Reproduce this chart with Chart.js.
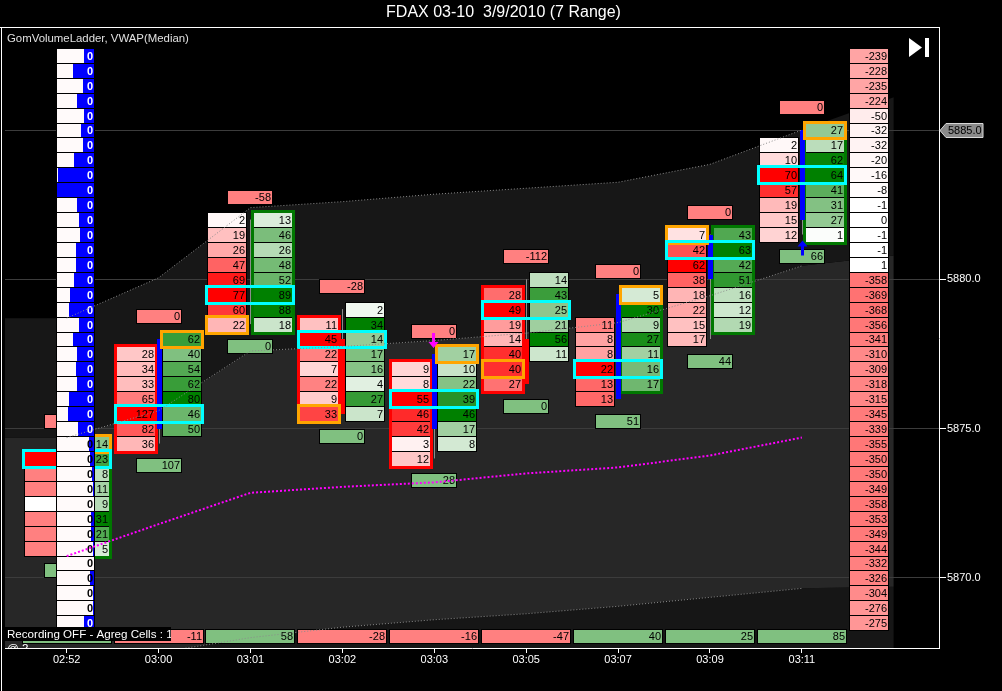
<!DOCTYPE html>
<html>
<head>
<meta charset="utf-8">
<title>FDAX 03-10 volume ladder</title>
<script src="https://cdn.jsdelivr.net/npm/chart.js@4.4.1/dist/chart.umd.min.js"></script>
<style>
  html, body { margin: 0; padding: 0; background: #000; overflow: hidden; }
  canvas { display: block; background: #000; }
</style>
</head>
<body>
<canvas id="chart" width="1002" height="691"></canvas>
<script>
// Bars (7 range) and their footprint
const times = ['02:52', '03:00', '03:01', '03:02', '03:03', '03:05', '03:07', '03:09', '03:11'];
const yTicks = [5870, 5875, 5880, 5885];
const tickSize = 0.5;

// price of the first (highest) row of each bar
const rowTop = [5874.5, 5878.0, 5882.0, 5879.0, 5877.5, 5880.0, 5879.5, 5881.5, 5885.0];
// bid / ask volume per row, top to bottom (null = no trade on that side)
const bidVol = [
    [null, 2, 1, 1, 0, 1, 1, 1],
    [null, 28, 34, 33, 65, 127, 82, 36],
    [2, 19, 26, 47, 69, 77, 60, 22],
    [null, 11, 45, 22, 7, 22, 9, 33],
    [null, 9, 8, 55, 46, 42, 3, 12],
    [null, 28, 49, 19, 14, 40, 40, 27],
    [null, null, 11, 8, 8, 22, 13, 13],
    [7, 42, 62, 38, 18, 22, 15, 17],
    [null, 2, 10, 70, 57, 19, 15, 12]
];
const askVol = [
    [14, 23, 8, 11, 9, 31, 21, 5],
    [62, 40, 54, 62, 80, 46, 50, null],
    [13, 46, 26, 48, 52, 89, 88, 18],
    [2, 34, 14, 17, 16, 4, 27, 7],
    [17, 10, 22, 39, 46, 17, 8, null],
    [14, 43, 25, 21, 56, 11, null, null],
    [5, 30, 9, 27, 11, 16, 17, null],
    [43, 63, 42, 51, 16, 12, 19, null],
    [27, 17, 62, 64, 41, 31, 27, 1]
];
const opens  = [5871.0, 5875.0, 5878.5, 5878.0, 5875.0, 5878.0, 5876.0, 5880.0, 5882.0];
const closes = [5874.0, 5878.0, 5878.5, 5875.5, 5877.5, 5876.5, 5879.5, 5881.5, 5885.0];
const highs  = [5874.5, 5878.0, 5882.0, 5879.0, 5877.5, 5880.0, 5879.5, 5881.5, 5885.0];
const lows   = [5871.0, 5874.5, 5878.5, 5875.5, 5874.0, 5876.5, 5876.0, 5878.0, 5881.5];

const pocPrice  = [5874.0, 5875.5, 5879.5, 5878.0, 5876.0, 5879.0, 5877.0, 5881.0, 5883.5];
const markSide  = ['ask', 'ask', 'bid', 'bid', 'ask', 'bid', 'ask', 'bid', 'ask'];
const markPrice = [5874.5, 5878.0, 5878.5, 5875.5, 5877.5, 5877.0, 5879.5, 5881.5, 5885.0];
const frameSide = ['ask', 'bid', 'ask', 'bid', 'bid', 'bid', 'ask', 'ask', 'ask'];

const deltaTop  = [0, 0, -58, -28, 0, -112, 0, 0, 0];
const volBottom = [0, 107, 0, 0, 28, 0, 51, 44, 66];
const cumDelta  = [12, -11, 58, -28, -16, -47, 40, 25, 85];
const cumRowPrice = 5868.05;
const sigDown = [0, 0, 0, 0, 1, 0, 0, 0, 0];
const sigUp   = [0, 0, 0, 0, 0, 0, 0, 0, 1];

// session ladders (5887.5 down to 5868.5)
const ladderTop = 5887.5;
const leftShare = [72, 44, 69, 54, 74, 64, 69, 46, 3, 0,
                   54, 59, 62, 51, 51, 46, 36, 33, 59, 44,
                   54, 51, 54, 33, 31, 56, 87, 90, 95, 97,
                   100, 92, 92, 97, 100, 90, 97, 97, 72];
const leftVals = [0, 0, 0, 0, 0, 0, 0, 0, 0, 0,
                  0, 0, 0, 0, 0, 0, 0, 0, 0, 0,
                  0, 0, 0, 0, 0, 0, 0, 0, 0, 0,
                  0, 0, 0, 0, 0, 0, 0, 0, 0];
const rightDelta = [-239, -228, -235, -224, -50, -32, -32, -20, -16, -8,
                    -1, 0, -1, -1, 1, -358, -369, -368, -356, -341,
                    -310, -309, -318, -315, -345, -339, -355, -350, -350, -349,
                    -358, -353, -349, -344, -332, -326, -304, -276, -275];

// VWAP and its bands (band points: left edge, one per bar, right edge)
const vwap    = [5870.73, 5871.8, 5872.85, 5873.05, 5873.2, 5873.5, 5873.7, 5874.1, 5874.7];
const bandIdx = [-0.7, 0, 1, 2, 3, 4, 5, 6, 7, 8, 9];
const bandUp2 = [5878.7, 5878.7, 5880.05, 5882.4, 5882.6, 5882.85, 5883.05, 5883.25, 5883.85, 5885.0, 5886.1];
const bandUp1 = [5874.7, 5874.7, 5875.6, 5877.6, 5877.75, 5877.95, 5878.2, 5878.55, 5879.45, 5880.45, 5880.8];
const bandDn1 = [5866.4, 5866.6, 5867.5, 5868.0, 5868.35, 5868.6, 5868.8, 5869.05, 5869.35, 5869.65, 5869.7];

const FONT = '"Liberation Sans", Arial, sans-serif';
Chart.defaults.font.family = FONT;

function bidColor(f) {
    const c = Math.round(255 * (1 - f));
    return 'rgb(255,' + c + ',' + c + ')';
}
function askColor(f) {
    const c = Math.round(255 * (1 - f));
    return 'rgb(' + c + ',' + Math.round(255 - 127 * f) + ',' + c + ')';
}
function deltaColor(v, max) {
    const f = Math.abs(v) / max;
    const c = Math.round(255 - 141 * f);
    return v < 0 ? 'rgb(255,' + c + ',' + c + ')' : 'rgb(' + c + ',255,' + c + ')';
}

function rowBox(ys, price) {
    return [Math.round(ys.getPixelForValue(price + tickSize / 2)),
            Math.round(ys.getPixelForValue(price - tickSize / 2))];
}

// one footprint cell: black outline, coloured inside, value right aligned
function cell(ctx, x0, x1, t, b, fill, text) {
    ctx.fillStyle = '#000';
    ctx.fillRect(x0, t, x1 - x0, b - t + 1);
    ctx.fillStyle = fill;
    ctx.fillRect(x0 + 1, t + 1, x1 - x0 - 2, b - t - 1);
    if (text !== null && text !== undefined) {
        ctx.fillStyle = '#000';
        ctx.textAlign = 'right';
        ctx.textBaseline = 'middle';
        ctx.fillText(String(text), x1 - 2, (t + b) / 2 + 1);
    }
}

function box(ctx, x0, x1, t, b, color, width) {
    ctx.strokeStyle = color;
    ctx.lineWidth = width;
    ctx.strokeRect(x0 - 0.5, t - 0.5, x1 - x0 + 1, b - t + 1);
}

function arrow(ctx, cx, tipY, dir, color) {
    const len = 15, head = 6;
    ctx.fillStyle = color;
    ctx.beginPath();
    ctx.moveTo(cx, tipY);
    ctx.lineTo(cx - 5, tipY - dir * head);
    ctx.lineTo(cx - 1.5, tipY - dir * head);
    ctx.lineTo(cx - 1.5, tipY - dir * len);
    ctx.lineTo(cx + 1.5, tipY - dir * len);
    ctx.lineTo(cx + 1.5, tipY - dir * head);
    ctx.lineTo(cx + 5, tipY - dir * head);
    ctx.closePath();
    ctx.fill();
}

function drawFootprint(chart) {
    const ctx = chart.ctx, xs = chart.scales.x, ys = chart.scales.y, a = chart.chartArea;
    ctx.save();
    ctx.beginPath();
    ctx.rect(a.left, a.top, a.right - a.left, a.bottom - a.top);
    ctx.clip();
    ctx.font = '11px ' + FONT;

    times.forEach((t, i) => {
        const cx = Math.round(xs.getPixelForValue(i));
        const bx0 = cx - 43, bx1 = cx - 3, ax0 = cx + 3, ax1 = cx + 43;
        const bMax = Math.max(...bidVol[i].filter(v => v !== null));
        const aMax = Math.max(...askVol[i].filter(v => v !== null));
        const bidRows = [], askRows = [];

        bidVol[i].forEach((v, k) => {
            if (v === null) return;
            const r = rowBox(ys, rowTop[i] - k * tickSize);
            cell(ctx, bx0, bx1, r[0], r[1], bidColor(v / bMax), v);
            bidRows.push(r);
        });
        askVol[i].forEach((v, k) => {
            if (v === null) return;
            const r = rowBox(ys, rowTop[i] - k * tickSize);
            cell(ctx, ax0, ax1, r[0], r[1], askColor(v / aMax), v);
            askRows.push(r);
        });

        // side frame
        const onBid = frameSide[i] === 'bid';
        const rows = onBid ? bidRows : askRows;
        box(ctx, onBid ? bx0 : ax0, onBid ? bx1 : ax1, rows[0][0], rows[rows.length - 1][1] + 1,
            onBid ? '#ff0000' : '#007800', 3);

        // candle
        const wx = cx + 0.5;
        ctx.strokeStyle = '#8c8c8c';
        ctx.lineWidth = 1;
        ctx.beginPath();
        ctx.moveTo(wx, ys.getPixelForValue(highs[i]));
        ctx.lineTo(wx, ys.getPixelForValue(lows[i]));
        ctx.stroke();
        if (opens[i] !== closes[i]) {
            const yt = Math.round(ys.getPixelForValue(Math.max(opens[i], closes[i])));
            const yb = Math.round(ys.getPixelForValue(Math.min(opens[i], closes[i])));
            ctx.fillStyle = closes[i] > opens[i] ? '#0000ff' : '#ff0000';
            ctx.fillRect(cx - 2, yt, 5, yb - yt);
        }

        // marked cell and point of control
        const m = rowBox(ys, markPrice[i]);
        if (markSide[i] === 'bid') box(ctx, bx0, bx1, m[0], m[1] + 1, '#ffa500', 3);
        else box(ctx, ax0, ax1, m[0], m[1] + 1, '#ffa500', 3);
        const p = rowBox(ys, pocPrice[i]);
        box(ctx, bx0, ax1, p[0], p[1] + 1, '#00ffff', 3);

        // delta above, volume below, cumulative row
        const up = rowBox(ys, highs[i] + 1.5 * tickSize);
        cell(ctx, cx - 23, cx + 23, up[0], up[1] - 1, '#ff8080', deltaTop[i]);
        const dn = rowBox(ys, lows[i] - 1.5 * tickSize);
        cell(ctx, cx - 23, cx + 23, dn[0], dn[1] - 1, '#80c080', volBottom[i]);
        const cr = rowBox(ys, cumRowPrice);
        cell(ctx, cx - 45, cx + 45, cr[0], cr[1] - 1, cumDelta[i] < 0 ? '#ff8080' : '#80c080', cumDelta[i]);
    });

    // session ladder on the first bar
    ctx.font = 'bold 11px ' + FONT;
    const lx0 = Math.round(xs.getPixelForValue(0)) - 11, lx1 = lx0 + 39;
    leftShare.forEach((s, k) => {
        const r = rowBox(ys, ladderTop - k * tickSize);
        ctx.fillStyle = '#000';
        ctx.fillRect(lx0, r[0], lx1 - lx0, r[1] - r[0] + 1);
        const wEnd = lx0 + 1 + Math.round((lx1 - lx0 - 2) * s / 100);
        ctx.fillStyle = '#0000ff';
        ctx.fillRect(lx0 + 1, r[0] + 1, lx1 - lx0 - 2, r[1] - r[0] - 1);
        ctx.fillStyle = '#fffafa';
        ctx.fillRect(lx0 + 1, r[0] + 1, wEnd - lx0 - 1, r[1] - r[0] - 1);
        ctx.fillStyle = wEnd < lx1 - 8 ? '#ffffff' : '#000000';
        ctx.textAlign = 'right';
        ctx.textBaseline = 'middle';
        ctx.fillText(String(leftVals[k]), lx1 - 2, (r[0] + r[1]) / 2 + 1);
    });

    // delta ladder on the right
    ctx.font = '11px ' + FONT;
    const rMax = Math.max(...rightDelta.map(Math.abs));
    const rx0 = Math.round(xs.getPixelForValue(times.length - 1)) + 47, rx1 = rx0 + 40;
    rightDelta.forEach((v, k) => {
        const r = rowBox(ys, ladderTop - k * tickSize);
        cell(ctx, rx0, rx1, r[0], r[1], deltaColor(v, rMax), v);
    });

    // signal arrows
    times.forEach((t, i) => {
        const cx = Math.round(xs.getPixelForValue(i)) + 0.5;
        if (sigDown[i]) arrow(ctx, cx - 1, ys.getPixelForValue(highs[i] + 0.2), 1, '#ff00ff');
        if (sigUp[i]) arrow(ctx, cx, ys.getPixelForValue(lows[i] - 0.2), -1, '#0000ff');
    });
    ctx.restore();
}

function drawOverlay(chart) {
    const ctx = chart.ctx, a = chart.chartArea, ys = chart.scales.y;
    ctx.save();
    // outer frame
    ctx.strokeStyle = '#ffffff';
    ctx.lineWidth = 1;
    ctx.beginPath();
    ctx.moveTo(0, a.top - 0.5);
    ctx.lineTo(a.right + 1, a.top - 0.5);
    ctx.moveTo(1.5, a.top - 1);
    ctx.lineTo(1.5, chart.height);
    ctx.stroke();

    ctx.textAlign = 'left';
    ctx.textBaseline = 'middle';
    ctx.fillStyle = '#e0e0e0';
    ctx.font = '11.4px ' + FONT;
    ctx.fillText('GomVolumeLadder, VWAP(Median)', 7, a.top + 11);

    // status label, clipped to the plot
    ctx.save();
    ctx.beginPath();
    ctx.rect(a.left, a.top, a.right - a.left, a.bottom - a.top);
    ctx.clip();
    ctx.fillStyle = '#000';
    ctx.fillRect(a.left, a.bottom - 21, 166, 14);
    ctx.fillStyle = '#ffffff';
    ctx.font = '11.6px ' + FONT;
    ctx.save();
    ctx.beginPath();
    ctx.rect(a.left, a.bottom - 21, 166, 14);
    ctx.clip();
    ctx.fillText('Recording OFF - Agreg Cells : 1', 7, a.bottom - 13.5);
    ctx.restore();
    ctx.fillText('@ 2', 7, a.bottom + 1);
    ctx.restore();

    // last price marker
    const py = Math.round(ys.getPixelForValue(closes[closes.length - 1])) + 0.5;
    const px0 = a.right + 1;
    ctx.beginPath();
    ctx.moveTo(px0, py);
    ctx.lineTo(px0 + 6, py - 7);
    ctx.lineTo(px0 + 43, py - 7);
    ctx.lineTo(px0 + 43, py + 7);
    ctx.lineTo(px0 + 6, py + 7);
    ctx.closePath();
    ctx.fillStyle = '#8a8a8a';
    ctx.fill();
    ctx.strokeStyle = '#d8d8d8';
    ctx.stroke();
    ctx.fillStyle = '#000';
    ctx.font = '11px ' + FONT;
    ctx.fillText(closes[closes.length - 1].toFixed(1), px0 + 8, py + 0.5);

    // "go to end" button
    const bx = a.right - 30, by = a.top + 10;
    ctx.fillStyle = '#ffffff';
    ctx.beginPath();
    ctx.moveTo(bx, by);
    ctx.lineTo(bx + 13, by + 9.5);
    ctx.lineTo(bx, by + 19);
    ctx.closePath();
    ctx.fill();
    ctx.fillRect(bx + 16, by, 4, 19);
    ctx.restore();
}

const footprintPlugin = {
    id: 'footprint',
    beforeDatasetsDraw(chart) { drawFootprint(chart); },
    afterDraw(chart) { drawOverlay(chart); }
};

// band shading spans the full width, the dotted band lines only the bars
const barIdx = bandIdx.slice(1, 10);
function bandFill(label, vals, fill, color) {
    return {
        label: label,
        data: bandIdx.map((x, i) => ({ x: x, y: vals[i] })),
        borderWidth: 0,
        borderColor: 'rgba(0,0,0,0)',
        pointRadius: 0,
        fill: fill,
        backgroundColor: color
    };
}
function bandLine(label, vals) {
    return {
        label: label,
        data: barIdx.map((x, i) => ({ x: x, y: vals[i + 1] })),
        borderColor: '#8c8c8c',
        borderWidth: 1,
        borderDash: [1, 2],
        pointRadius: 0,
        fill: false
    };
}

new Chart(document.getElementById('chart'), {
    type: 'line',
    data: {
        datasets: [
            {
                label: 'VWAP',
                data: vwap.map((v, i) => ({ x: i, y: v })),
                borderColor: '#ff00ff',
                borderWidth: 2,
                borderDash: [2, 2],
                pointRadius: 0,
                fill: false
            },
            bandLine('Upper 2 line', bandUp2),
            bandLine('Upper 1 line', bandUp1),
            bandLine('Lower 1 line', bandDn1),
            bandFill('Upper 2', bandUp2, '+1', '#171717'),
            bandFill('Upper 1', bandUp1, '+1', '#272727'),
            bandFill('Lower 1', bandDn1, 'start', '#161616')
        ]
    },
    options: {
        responsive: false,
        animation: false,
        events: [],
        layout: { padding: { left: 5, right: 0, top: 0, bottom: 0 } },
        plugins: {
            legend: { display: false },
            tooltip: { enabled: false },
            filler: { drawTime: 'beforeDraw' },
            title: {
                display: true,
                text: 'FDAX 03-10  3/9/2010 (7 Range)',
                color: '#ffffff',
                font: { size: 16, weight: 'normal', lineHeight: 1.125 },
                padding: { top: 4, bottom: 6 }
            }
        },
        scales: {
            x: {
                type: 'linear',
                min: -0.671,
                max: 9.492,
                afterFit(scale) { scale.height = 43; },
                afterBuildTicks(scale) { scale.ticks = times.map((t, i) => ({ value: i })); },
                ticks: {
                    color: '#ffffff',
                    font: { size: 11 },
                    padding: 0,
                    autoSkip: false,
                    maxRotation: 0,
                    callback: v => times[v]
                },
                grid: { drawOnChartArea: false, drawTicks: true, tickLength: 5, tickColor: '#ffffff' },
                border: { color: '#ffffff' }
            },
            y: {
                type: 'linear',
                position: 'right',
                min: 5867.653,
                max: 5888.416,
                afterFit(scale) { scale.width = 63; },
                afterBuildTicks(scale) { scale.ticks = yTicks.map(v => ({ value: v })); },
                ticks: {
                    color: '#ffffff',
                    font: { size: 11 },
                    padding: 1,
                    callback: v => v.toFixed(1)
                },
                grid: { color: '#3c3c3c', tickLength: 7, tickColor: '#ffffff' },
                border: { color: '#ffffff' }
            }
        }
    },
    plugins: [footprintPlugin]
});
</script>
</body>
</html>
